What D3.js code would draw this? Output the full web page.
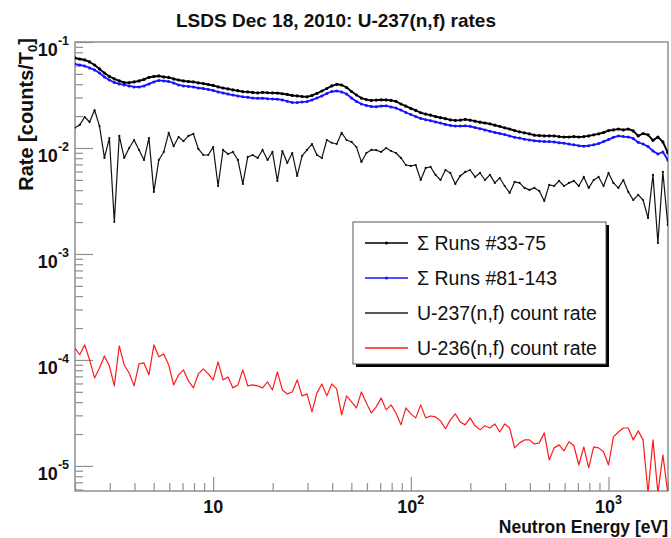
<!DOCTYPE html>
<html>
<head>
<meta charset="utf-8">
<script src="https://cdn.jsdelivr.net/npm/d3@7"></script>
<style>
  html, body { margin: 0; padding: 0; background: #fff; }
  svg { display: block; font-family: "Liberation Sans", Arial, Helvetica, sans-serif; }
</style>
</head>
<body>
<svg id="chart" width="671" height="538"></svg>
<script>
// Bin centres of the neutron-energy histogram [eV]
const energy = [
  1.995, 2.113, 2.239, 2.371, 2.512, 2.661, 2.818, 2.985, 3.162, 3.350,
  3.548, 3.758, 3.981, 4.217, 4.467, 4.732, 5.012, 5.309, 5.623, 5.957,
  6.310, 6.683, 7.079, 7.499, 7.943, 8.414, 8.913, 9.441,
  10.00, 10.59, 11.22, 11.89, 12.59, 13.34, 14.13, 14.96, 15.85, 16.79,
  17.78, 18.84, 19.95, 21.13, 22.39, 23.71, 25.12, 26.61, 28.18, 29.85,
  31.62, 33.50, 35.48, 37.58, 39.81, 42.17, 44.67, 47.32, 50.12, 53.09,
  56.23, 59.57, 63.10, 66.83, 70.79, 74.99, 79.43, 84.14, 89.13, 94.41,
  100.0, 105.9, 112.2, 118.9, 125.9, 133.4, 141.3, 149.6, 158.5, 167.9,
  177.8, 188.4, 199.5, 211.3, 223.9, 237.1, 251.2, 266.1, 281.8, 298.5,
  316.2, 335.0, 354.8, 375.8, 398.1, 421.7, 446.7, 473.2, 501.2, 530.9,
  562.3, 595.7, 631.0, 668.3, 707.9, 749.9, 794.3, 841.4, 891.3, 944.1,
  1000, 1059, 1122, 1189, 1259, 1334, 1413, 1496, 1585, 1679,
  1778, 1884, 1995
];

// Σ Runs #33-75 [counts/T0]
const runs33to75 = [
  0.0707, 0.0691, 0.0677, 0.0648, 0.0607, 0.0557, 0.0510, 0.0473, 0.0448, 0.0429,
  0.0415, 0.0413, 0.0420, 0.0429, 0.0443, 0.0463, 0.0473, 0.0478, 0.0468, 0.0463,
  0.0448, 0.0438, 0.0429, 0.0424, 0.0420, 0.0411, 0.0406, 0.0397, 0.0389, 0.0377,
  0.0368, 0.0361, 0.0353, 0.0347, 0.0340, 0.0338, 0.0334, 0.0331, 0.0335, 0.0332,
  0.0331, 0.0330, 0.0325, 0.0320, 0.0313, 0.0310, 0.0306, 0.0304, 0.0313, 0.0327,
  0.0345, 0.0364, 0.0385, 0.0399, 0.0393, 0.0372, 0.0341, 0.0316, 0.0296, 0.0286,
  0.0281, 0.0283, 0.0285, 0.0284, 0.0281, 0.0275, 0.0260, 0.0248, 0.0236, 0.0226,
  0.0215, 0.0209, 0.0204, 0.0198, 0.0193, 0.0189, 0.0184, 0.0182, 0.0183, 0.0186,
  0.0183, 0.0179, 0.0175, 0.0172, 0.0169, 0.0164, 0.0160, 0.0155, 0.0151, 0.0146,
  0.0142, 0.0139, 0.0136, 0.0132, 0.0131, 0.0130, 0.0130, 0.0130, 0.0128, 0.0127,
  0.0127, 0.0128, 0.0127, 0.0128, 0.0130, 0.0133, 0.0136, 0.0140, 0.0146, 0.0148,
  0.0151, 0.0148, 0.0151, 0.0145, 0.0130, 0.0137, 0.0133, 0.0118, 0.0127, 0.0114,
  0.0090
];

// Σ Runs #81-143 [counts/T0]
const runs81to143 = [
  0.0620, 0.0607, 0.0594, 0.0569, 0.0545, 0.0510, 0.0468, 0.0438, 0.0415, 0.0402,
  0.0393, 0.0385, 0.0377, 0.0376, 0.0385, 0.0402, 0.0420, 0.0434, 0.0429, 0.0424,
  0.0411, 0.0393, 0.0385, 0.0381, 0.0377, 0.0368, 0.0364, 0.0357, 0.0349, 0.0338,
  0.0331, 0.0323, 0.0316, 0.0310, 0.0304, 0.0301, 0.0296, 0.0294, 0.0295, 0.0292,
  0.0290, 0.0289, 0.0284, 0.0276, 0.0269, 0.0268, 0.0272, 0.0274, 0.0284, 0.0296,
  0.0310, 0.0327, 0.0341, 0.0345, 0.0338, 0.0323, 0.0296, 0.0275, 0.0260, 0.0252,
  0.0246, 0.0245, 0.0249, 0.0250, 0.0244, 0.0238, 0.0228, 0.0216, 0.0207, 0.0198,
  0.0190, 0.0185, 0.0181, 0.0176, 0.0172, 0.0167, 0.0163, 0.0161, 0.0161, 0.0162,
  0.0160, 0.0156, 0.0152, 0.0148, 0.0144, 0.0140, 0.0137, 0.0134, 0.0130, 0.0126,
  0.0124, 0.0121, 0.0119, 0.0117, 0.0116, 0.0115, 0.0115, 0.0114, 0.0112, 0.0111,
  0.0109, 0.0107, 0.0105, 0.0104, 0.0105, 0.0107, 0.0110, 0.0115, 0.0120, 0.0126,
  0.0130, 0.0128, 0.0127, 0.0123, 0.0113, 0.0109, 0.0103, 0.00937, 0.00878, 0.00917,
  0.00771
];

// U-237(n,f) count rate [counts/T0]
const u237Rate = [
  0.0155, 0.0165, 0.0196, 0.0176, 0.0228, 0.0161, 0.00805, 0.0124, 0.00201, 0.0130,
  0.00805, 0.0100, 0.0119, 0.00958, 0.00771, 0.0124, 0.00385, 0.00771, 0.00917, 0.0139,
  0.0104, 0.0127, 0.0116, 0.0130, 0.0136, 0.00979, 0.00859, 0.00859, 0.0102, 0.00438,
  0.00958, 0.00878, 0.00917, 0.00771, 0.00458, 0.00823, 0.00859, 0.00805, 0.00958, 0.00771,
  0.00917, 0.00489, 0.00937, 0.00722, 0.00897, 0.00545, 0.00841, 0.00958, 0.0109, 0.00859,
  0.00805, 0.0119, 0.0112, 0.0109, 0.0139, 0.0119, 0.0114, 0.0102, 0.00738, 0.00897,
  0.00958, 0.00955, 0.00917, 0.0100, 0.00937, 0.00897, 0.00805, 0.00691, 0.00677, 0.00691,
  0.00499, 0.00648, 0.00662, 0.00557, 0.00499, 0.00620, 0.00581, 0.00458, 0.00545, 0.00594,
  0.00620, 0.00533, 0.00581, 0.00499, 0.00557, 0.00468, 0.00521, 0.00438, 0.00377, 0.00478,
  0.00468, 0.00420, 0.00402, 0.00420, 0.00393, 0.00316, 0.00448, 0.00438, 0.00489, 0.00438,
  0.00468, 0.00489, 0.00438, 0.00533, 0.00420, 0.00499, 0.00533, 0.00438, 0.00581, 0.00468,
  0.00420, 0.00499, 0.00385, 0.00323, 0.00361, 0.00323, 0.00219, 0.00557, 0.00127, 0.00594,
  0.00188
];

// U-236(n,f) count rate [counts/T0]; empty bins are 0
const u236Rate = [
  1.30e-4, 1.12e-4, 1.39e-4, 1.00e-4, 6.77e-5, 8.41e-5, 1.09e-4, 8.78e-5, 5.69e-5, 1.36e-4,
  8.97e-5, 7.54e-5, 5.69e-5, 9.17e-5, 9.37e-5, 7.22e-5, 1.39e-4, 1.07e-4, 1.14e-4, 8.97e-5,
  5.81e-5, 7.22e-5, 8.05e-5, 6.34e-5, 5.45e-5, 7.38e-5, 8.23e-5, 7.38e-5, 6.48e-5, 9.58e-5,
  6.48e-5, 6.91e-5, 5.45e-5, 5.81e-5, 8.05e-5, 5.69e-5, 5.81e-5, 5.69e-5, 5.45e-5, 6.20e-5,
  5.21e-5, 7.71e-5, 5.21e-5, 4.78e-5, 4.99e-5, 6.48e-5, 4.58e-5, 4.78e-5, 3.23e-5, 4.89e-5,
  5.94e-5, 4.58e-5, 5.94e-5, 5.33e-5, 3.03e-5, 4.58e-5, 4.02e-5, 3.53e-5, 4.99e-5, 3.93e-5,
  3.16e-5, 3.61e-5, 4.38e-5, 3.38e-5, 3.77e-5, 3.16e-5, 2.44e-5, 3.53e-5, 3.10e-5, 2.84e-5,
  3.77e-5, 2.84e-5, 2.96e-5, 2.90e-5, 2.66e-5, 2.24e-5, 2.72e-5, 3.10e-5, 2.60e-5, 2.44e-5,
  2.84e-5, 2.39e-5, 2.19e-5, 2.39e-5, 2.28e-5, 2.49e-5, 2.09e-5, 2.49e-5, 2.28e-5, 1.48e-5,
  1.65e-5, 1.76e-5, 1.76e-5, 1.61e-5, 1.65e-5, 2.05e-5, 1.14e-5, 1.48e-5, 1.58e-5, 1.39e-5,
  1.69e-5, 1.55e-5, 1.02e-5, 1.51e-5, 9.58e-6, 1.51e-5, 1.48e-5, 1.36e-5, 1.02e-5, 1.88e-5,
  2.09e-5, 2.28e-5, 2.28e-5, 1.76e-5, 2.14e-5, 1.76e-5, 0, 1.76e-5, 0, 1.27e-5,
  0
];

// Axis tick labels
const xMajorTicks = [10, 100, 1000];
const xMajorExponents = ["", "2", "3"];
const yMajorTicks = [1e-5, 1e-4, 1e-3, 1e-2, 1e-1];
const yMajorExponents = ["-5", "-4", "-3", "-2", "-1"];

const legendLabels = ["\u03A3 Runs #33-75", "\u03A3 Runs #81-143", "U-237(n,f) count rate", "U-236(n,f) count rate"];

const titleText = "LSDS Dec 18, 2010: U-237(n,f) rates";
const xTitle = "Neutron Energy [eV]";

// ---- layout ----
const frame = { left: 75, right: 668, top: 42, bottom: 491 };
const axisGray = "#8f8f8f";

const x = d3.scaleLog().domain([2, 2000]).range([frame.left, frame.right]);
const y = d3.scaleLog().domain([5.8e-6, 0.1]).range([frame.bottom, frame.top]).clamp(true);

const svg = d3.select("#chart");
svg.append("rect").attr("width", 671).attr("height", 538).attr("fill", "#fff");

svg.append("defs").append("clipPath").attr("id", "plotClip")
  .append("rect")
  .attr("x", frame.left).attr("y", frame.top)
  .attr("width", frame.right - frame.left).attr("height", frame.bottom - frame.top);

// ---- ticks ----
const isDecade = t => Math.abs(Math.log10(t) - Math.round(Math.log10(t))) < 1e-6;
const xMinor = x.ticks().filter(t => !isDecade(t));
const yMinor = y.ticks().filter(t => !isDecade(t));

function styleAxis(g) {
  g.select(".domain").remove();
  g.selectAll(".tick line").attr("stroke", axisGray).attr("stroke-width", 1.2);
  g.selectAll(".tick text").remove();
}

svg.append("g").attr("transform", `translate(0,${frame.bottom})`)
  .call(d3.axisBottom(x).tickValues(xMinor).tickSize(-8).tickFormat(""))
  .call(styleAxis);
svg.append("g").attr("transform", `translate(0,${frame.bottom})`)
  .call(d3.axisBottom(x).tickValues(xMajorTicks).tickSize(-14).tickFormat(""))
  .call(styleAxis);
svg.append("g").attr("transform", `translate(${frame.left},0)`)
  .call(d3.axisLeft(y).tickValues(yMinor).tickSize(-8).tickFormat(""))
  .call(styleAxis);
svg.append("g").attr("transform", `translate(${frame.left},0)`)
  .call(d3.axisLeft(y).tickValues(yMajorTicks).tickSize(-18).tickFormat(""))
  .call(styleAxis);

// ---- frame ----
svg.append("rect")
  .attr("x", frame.left).attr("y", frame.top)
  .attr("width", frame.right - frame.left).attr("height", frame.bottom - frame.top)
  .attr("fill", "none").attr("stroke", axisGray).attr("stroke-width", 1.5);

// ---- tick labels ----
xMajorTicks.forEach((t, i) => {
  const txt = svg.append("text")
    .attr("x", x(t)).attr("y", frame.bottom + 22)
    .attr("text-anchor", "middle")
    .attr("font-weight", "bold").attr("font-size", 18).attr("fill", "#111");
  txt.append("tspan").text("10");
  if (xMajorExponents[i]) {
    txt.append("tspan").attr("font-size", 12.5).attr("dy", -9).text(xMajorExponents[i]);
  }
});

yMajorTicks.forEach((t, i) => {
  const txt = svg.append("text")
    .attr("x", frame.left - 6).attr("y", y(t) + 14)
    .attr("text-anchor", "end")
    .attr("font-weight", "bold").attr("font-size", 18).attr("fill", "#111");
  txt.append("tspan").text("10");
  txt.append("tspan").attr("font-size", 12.5).attr("dy", -11).text(yMajorExponents[i]);
});

// ---- titles ----
svg.append("text")
  .attr("x", 336).attr("y", 27)
  .attr("text-anchor", "middle")
  .attr("font-weight", "bold").attr("font-size", 19).attr("fill", "#111")
  .text(titleText);

svg.append("text")
  .attr("x", frame.right).attr("y", 533)
  .attr("text-anchor", "end")
  .attr("font-weight", "bold").attr("font-size", 17.5).attr("fill", "#111")
  .text(xTitle);

const yt = svg.append("text")
  .attr("transform", `translate(33,${frame.top - 4}) rotate(-90)`)
  .attr("text-anchor", "end")
  .attr("font-weight", "bold").attr("font-size", 20).attr("fill", "#111");
yt.append("tspan").text("Rate [counts/T");
yt.append("tspan").attr("font-size", 13).attr("dy", 4).text("0");
yt.append("tspan").attr("dy", -4).text("]");

// ---- data series ----
const plot = svg.append("g").attr("clip-path", "url(#plotClip)");

function seriesData(values) {
  return energy.map((e, i) => ({ e, v: values[i] }));
}
const line = d3.line()
  .x(d => x(d.e))
  .y(d => d.v > 0 ? y(d.v) : frame.bottom + 2);

const series = [
  { values: u236Rate, color: "#ff1a1a", width: 1.2, dot: 0 },
  { values: u237Rate, color: "#111", width: 1.2, dot: 1.1 },
  { values: runs81to143, color: "#1414ff", width: 1.8, dot: 1.5 },
  { values: runs33to75, color: "#000", width: 1.9, dot: 1.6 }
];

series.forEach(s => {
  const data = seriesData(s.values);
  plot.append("path")
    .datum(data)
    .attr("fill", "none")
    .attr("stroke", s.color)
    .attr("stroke-width", s.width)
    .attr("stroke-linejoin", "round")
    .attr("d", line);
  if (s.dot > 0) {
    plot.append("g").selectAll("circle")
      .data(data.filter(d => d.v > 0))
      .join("circle")
      .attr("cx", d => x(d.e))
      .attr("cy", d => y(d.v))
      .attr("r", s.dot)
      .attr("fill", s.color);
  }
});

// ---- legend ----
const legend = svg.append("g");
legend.append("rect")
  .attr("x", 356).attr("y", 225).attr("width", 253).attr("height", 142)
  .attr("fill", "#000");
legend.append("rect")
  .attr("x", 353).attr("y", 222).attr("width", 253).attr("height", 142)
  .attr("fill", "#fff").attr("stroke", "#555").attr("stroke-width", 1);

const legendStyles = [
  { color: "#000", dot: true },
  { color: "#1414ff", dot: true },
  { color: "#222", dot: false },
  { color: "#ff1a1a", dot: false }
];
legendLabels.forEach((lab, i) => {
  const ly = 243 + i * 35;
  legend.append("line")
    .attr("x1", 365).attr("x2", 408).attr("y1", ly).attr("y2", ly)
    .attr("stroke", legendStyles[i].color).attr("stroke-width", 1.3);
  if (legendStyles[i].dot) {
    legend.append("circle").attr("cx", 386.5).attr("cy", ly).attr("r", 1.6)
      .attr("fill", legendStyles[i].color);
  }
  legend.append("text")
    .attr("x", 417).attr("y", ly)
    .attr("dominant-baseline", "central")
    .attr("font-size", 19.5).attr("fill", "#111")
    .text(lab);
});
</script>
</body>
</html>
